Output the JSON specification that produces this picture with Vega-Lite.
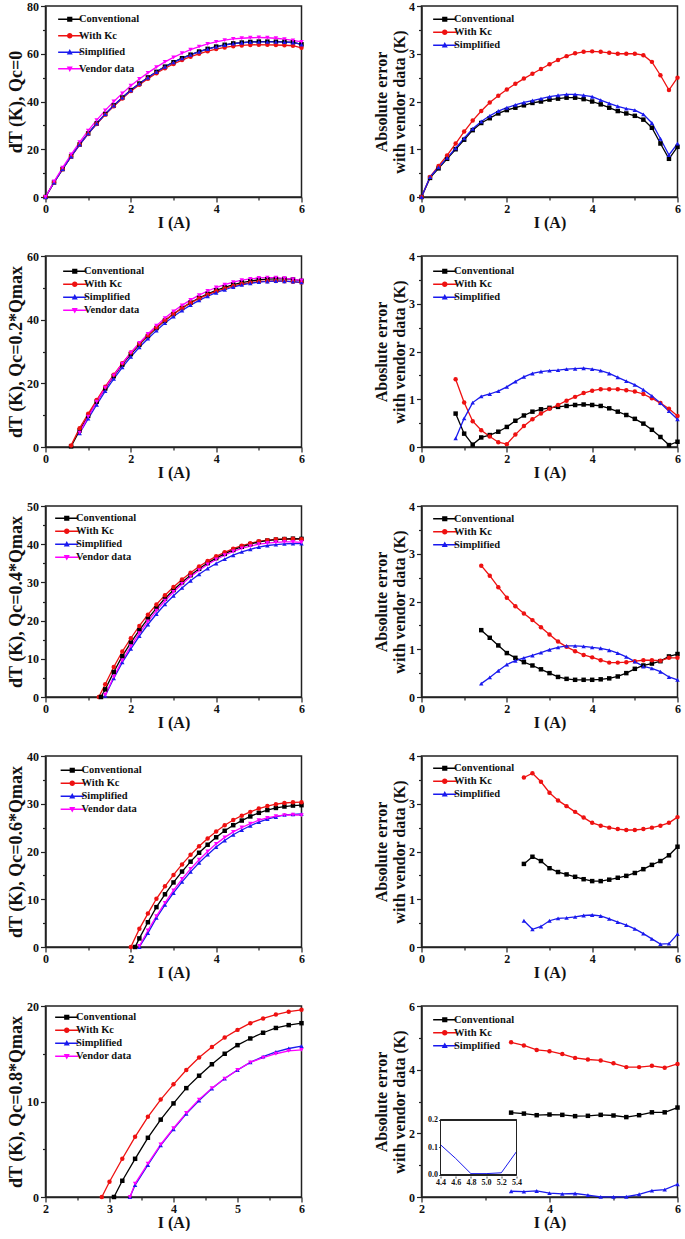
{
"$schema": "https://vega.github.io/schema/vega-lite/v6.json",
"background": "white",
"autosize": {"type": "pad"},
"padding": {"left": 6.5, "top": -1, "right": 0, "bottom": 0},
"columns": 2,
"spacing": {"row": 59, "column": 120},
"bounds": "flush",
"datasets": {
"A": [
{"I":0,"Conventional":0,"With Kc":0,"Simplified":0,"Vendor data":0},
{"I":0.2,"Conventional":6.1,"With Kc":6.08,"Simplified":6.08,"Vendor data":6.5},
{"I":0.4,"Conventional":11.7,"With Kc":11.65,"Simplified":11.68,"Vendor data":12.3},
{"I":0.6,"Conventional":17.0,"With Kc":16.93,"Simplified":16.98,"Vendor data":17.8},
{"I":0.8,"Conventional":22.0,"With Kc":21.88,"Simplified":21.98,"Vendor data":23.0},
{"I":1.0,"Conventional":26.6,"With Kc":26.43,"Simplified":26.57,"Vendor data":27.8},
{"I":1.2,"Conventional":30.8,"With Kc":30.6,"Simplified":30.77,"Vendor data":32.2},
{"I":1.4,"Conventional":34.75,"With Kc":34.5,"Simplified":34.72,"Vendor data":36.3},
{"I":1.6,"Conventional":38.35,"With Kc":38.02,"Simplified":38.3,"Vendor data":40.0},
{"I":1.8,"Conventional":41.65,"With Kc":41.28,"Simplified":41.6,"Vendor data":43.4},
{"I":2.0,"Conventional":44.78,"With Kc":44.35,"Simplified":44.73,"Vendor data":46.6},
{"I":2.2,"Conventional":47.53,"With Kc":47.03,"Simplified":47.47,"Vendor data":49.4},
{"I":2.4,"Conventional":50.08,"With Kc":49.52,"Simplified":50.02,"Vendor data":52.0},
{"I":2.6,"Conventional":52.43,"With Kc":51.82,"Simplified":52.38,"Vendor data":54.4},
{"I":2.8,"Conventional":54.6,"With Kc":53.92,"Simplified":54.54,"Vendor data":56.6},
{"I":3.0,"Conventional":56.46,"With Kc":55.72,"Simplified":56.4,"Vendor data":58.5},
{"I":3.2,"Conventional":58.14,"With Kc":57.33,"Simplified":58.07,"Vendor data":60.2},
{"I":3.4,"Conventional":59.62,"With Kc":58.75,"Simplified":59.55,"Vendor data":61.7},
{"I":3.6,"Conventional":60.92,"With Kc":59.99,"Simplified":60.85,"Vendor data":63.0},
{"I":3.8,"Conventional":62.05,"With Kc":61.06,"Simplified":61.97,"Vendor data":64.1},
{"I":4.0,"Conventional":63.0,"With Kc":61.95,"Simplified":62.9,"Vendor data":65.0},
{"I":4.2,"Conventional":63.76,"With Kc":62.66,"Simplified":63.67,"Vendor data":65.7},
{"I":4.4,"Conventional":64.33,"With Kc":63.18,"Simplified":64.24,"Vendor data":66.2},
{"I":4.6,"Conventional":64.7,"With Kc":63.5,"Simplified":64.6,"Vendor data":66.5},
{"I":4.8,"Conventional":64.95,"With Kc":63.7,"Simplified":64.85,"Vendor data":66.7},
{"I":5.0,"Conventional":65.1,"With Kc":63.8,"Simplified":64.98,"Vendor data":66.8},
{"I":5.2,"Conventional":65.08,"With Kc":63.73,"Simplified":64.97,"Vendor data":66.7},
{"I":5.4,"Conventional":65.05,"With Kc":63.67,"Simplified":64.95,"Vendor data":66.5},
{"I":5.6,"Conventional":64.98,"With Kc":63.55,"Simplified":64.88,"Vendor data":66.1},
{"I":5.8,"Conventional":64.8,"With Kc":63.36,"Simplified":64.72,"Vendor data":65.6},
{"I":6.0,"Conventional":63.95,"With Kc":62.5,"Simplified":63.88,"Vendor data":65.0}
],
"AE": [
{"I":0,"Conventional":0,"With Kc":0,"Simplified":0},
{"I":0.2,"Conventional":0.4,"With Kc":0.42,"Simplified":0.42},
{"I":0.4,"Conventional":0.6,"With Kc":0.65,"Simplified":0.62},
{"I":0.6,"Conventional":0.8,"With Kc":0.87,"Simplified":0.82},
{"I":0.8,"Conventional":1.0,"With Kc":1.12,"Simplified":1.02},
{"I":1.0,"Conventional":1.2,"With Kc":1.37,"Simplified":1.23},
{"I":1.2,"Conventional":1.4,"With Kc":1.6,"Simplified":1.43},
{"I":1.4,"Conventional":1.55,"With Kc":1.8,"Simplified":1.58},
{"I":1.6,"Conventional":1.65,"With Kc":1.98,"Simplified":1.7},
{"I":1.8,"Conventional":1.75,"With Kc":2.12,"Simplified":1.8},
{"I":2.0,"Conventional":1.82,"With Kc":2.25,"Simplified":1.87},
{"I":2.2,"Conventional":1.87,"With Kc":2.37,"Simplified":1.93},
{"I":2.4,"Conventional":1.92,"With Kc":2.48,"Simplified":1.98},
{"I":2.6,"Conventional":1.97,"With Kc":2.58,"Simplified":2.02},
{"I":2.8,"Conventional":2.0,"With Kc":2.68,"Simplified":2.06},
{"I":3.0,"Conventional":2.04,"With Kc":2.78,"Simplified":2.1},
{"I":3.2,"Conventional":2.06,"With Kc":2.87,"Simplified":2.13},
{"I":3.4,"Conventional":2.08,"With Kc":2.95,"Simplified":2.15},
{"I":3.6,"Conventional":2.08,"With Kc":3.01,"Simplified":2.15},
{"I":3.8,"Conventional":2.05,"With Kc":3.04,"Simplified":2.13},
{"I":4.0,"Conventional":2.0,"With Kc":3.05,"Simplified":2.1},
{"I":4.2,"Conventional":1.94,"With Kc":3.04,"Simplified":2.03},
{"I":4.4,"Conventional":1.87,"With Kc":3.02,"Simplified":1.96},
{"I":4.6,"Conventional":1.8,"With Kc":3.0,"Simplified":1.9},
{"I":4.8,"Conventional":1.75,"With Kc":3.0,"Simplified":1.85},
{"I":5.0,"Conventional":1.7,"With Kc":3.0,"Simplified":1.82},
{"I":5.2,"Conventional":1.62,"With Kc":2.97,"Simplified":1.73},
{"I":5.4,"Conventional":1.45,"With Kc":2.83,"Simplified":1.55},
{"I":5.6,"Conventional":1.12,"With Kc":2.55,"Simplified":1.22},
{"I":5.8,"Conventional":0.8,"With Kc":2.24,"Simplified":0.88},
{"I":6.0,"Conventional":1.05,"With Kc":2.5,"Simplified":1.12}
],
"B": [
{"I":0.6,"Conventional":0.2,"With Kc":0.5,"Simplified":null,"Vendor data":null},
{"I":0.8,"Conventional":5.2,"With Kc":5.92,"Simplified":4.32,"Vendor data":4.5},
{"I":1.0,"Conventional":9.78,"With Kc":10.43,"Simplified":8.9,"Vendor data":9.5},
{"I":1.2,"Conventional":14.25,"With Kc":14.74,"Simplified":13.27,"Vendor data":14.2},
{"I":1.4,"Conventional":18.4,"With Kc":18.95,"Simplified":17.54,"Vendor data":18.6},
{"I":1.6,"Conventional":22.25,"With Kc":22.72,"Simplified":21.39,"Vendor data":22.5},
{"I":1.8,"Conventional":25.88,"With Kc":26.3,"Simplified":25.03,"Vendor data":26.2},
{"I":2.0,"Conventional":29.18,"With Kc":29.66,"Simplified":28.34,"Vendor data":29.6},
{"I":2.2,"Conventional":32.15,"With Kc":32.44,"Simplified":31.33,"Vendor data":32.7},
{"I":2.4,"Conventional":34.84,"With Kc":35.06,"Simplified":34.03,"Vendor data":35.5},
{"I":2.6,"Conventional":37.36,"With Kc":37.52,"Simplified":36.56,"Vendor data":38.1},
{"I":2.8,"Conventional":39.71,"With Kc":39.8,"Simplified":38.92,"Vendor data":40.5},
{"I":3.0,"Conventional":41.78,"With Kc":41.8,"Simplified":41.0,"Vendor data":42.6},
{"I":3.2,"Conventional":43.66,"With Kc":43.62,"Simplified":42.89,"Vendor data":44.5},
{"I":3.4,"Conventional":45.34,"With Kc":45.23,"Simplified":44.57,"Vendor data":46.2},
{"I":3.6,"Conventional":46.82,"With Kc":46.65,"Simplified":46.06,"Vendor data":47.7},
{"I":3.8,"Conventional":48.11,"With Kc":47.87,"Simplified":47.35,"Vendor data":49.0},
{"I":4.0,"Conventional":49.22,"With Kc":48.92,"Simplified":48.47,"Vendor data":50.1},
{"I":4.2,"Conventional":50.14,"With Kc":49.79,"Simplified":49.4,"Vendor data":51.0},
{"I":4.4,"Conventional":50.99,"With Kc":50.59,"Simplified":50.26,"Vendor data":51.8},
{"I":4.6,"Conventional":51.66,"With Kc":51.19,"Simplified":50.94,"Vendor data":52.4},
{"I":4.8,"Conventional":52.13,"With Kc":51.61,"Simplified":51.42,"Vendor data":52.8},
{"I":5.0,"Conventional":52.51,"With Kc":51.94,"Simplified":51.8,"Vendor data":53.1},
{"I":5.2,"Conventional":52.71,"With Kc":52.09,"Simplified":52.0,"Vendor data":53.2},
{"I":5.4,"Conventional":52.84,"With Kc":52.18,"Simplified":52.13,"Vendor data":53.2},
{"I":5.6,"Conventional":52.79,"With Kc":52.08,"Simplified":52.08,"Vendor data":53.0},
{"I":5.8,"Conventional":52.66,"With Kc":51.9,"Simplified":51.95,"Vendor data":52.7},
{"I":6.0,"Conventional":52.19,"With Kc":51.65,"Simplified":51.72,"Vendor data":52.3}
],
"BE": [
{"I":0.8,"Conventional":0.7,"With Kc":1.42,"Simplified":0.18},
{"I":1.0,"Conventional":0.28,"With Kc":0.93,"Simplified":0.6},
{"I":1.2,"Conventional":0.05,"With Kc":0.54,"Simplified":0.93},
{"I":1.4,"Conventional":0.2,"With Kc":0.35,"Simplified":1.06},
{"I":1.6,"Conventional":0.25,"With Kc":0.22,"Simplified":1.11},
{"I":1.8,"Conventional":0.32,"With Kc":0.1,"Simplified":1.17},
{"I":2.0,"Conventional":0.42,"With Kc":0.06,"Simplified":1.26},
{"I":2.2,"Conventional":0.55,"With Kc":0.26,"Simplified":1.37},
{"I":2.4,"Conventional":0.66,"With Kc":0.44,"Simplified":1.47},
{"I":2.6,"Conventional":0.74,"With Kc":0.58,"Simplified":1.54},
{"I":2.8,"Conventional":0.79,"With Kc":0.7,"Simplified":1.58},
{"I":3.0,"Conventional":0.82,"With Kc":0.8,"Simplified":1.6},
{"I":3.2,"Conventional":0.84,"With Kc":0.88,"Simplified":1.61},
{"I":3.4,"Conventional":0.86,"With Kc":0.97,"Simplified":1.63},
{"I":3.6,"Conventional":0.88,"With Kc":1.05,"Simplified":1.64},
{"I":3.8,"Conventional":0.89,"With Kc":1.13,"Simplified":1.65},
{"I":4.0,"Conventional":0.88,"With Kc":1.18,"Simplified":1.63},
{"I":4.2,"Conventional":0.86,"With Kc":1.21,"Simplified":1.6},
{"I":4.4,"Conventional":0.81,"With Kc":1.21,"Simplified":1.54},
{"I":4.6,"Conventional":0.74,"With Kc":1.21,"Simplified":1.46},
{"I":4.8,"Conventional":0.67,"With Kc":1.19,"Simplified":1.38},
{"I":5.0,"Conventional":0.59,"With Kc":1.16,"Simplified":1.3},
{"I":5.2,"Conventional":0.49,"With Kc":1.11,"Simplified":1.2},
{"I":5.4,"Conventional":0.36,"With Kc":1.02,"Simplified":1.07},
{"I":5.6,"Conventional":0.21,"With Kc":0.92,"Simplified":0.92},
{"I":5.8,"Conventional":0.04,"With Kc":0.8,"Simplified":0.75},
{"I":6.0,"Conventional":0.11,"With Kc":0.65,"Simplified":0.58}
],
"C": [
{"I":1.25,"Conventional":null,"With Kc":0,"Simplified":null,"Vendor data":null},
{"I":1.3,"Conventional":0,"With Kc":null,"Simplified":null,"Vendor data":null},
{"I":1.4,"Conventional":2.0,"With Kc":3.35,"Simplified":0.32,"Vendor data":0.6},
{"I":1.6,"Conventional":6.54,"With Kc":7.84,"Simplified":4.89,"Vendor data":5.3},
{"I":1.8,"Conventional":10.68,"With Kc":11.9,"Simplified":9.05,"Vendor data":9.6},
{"I":2.0,"Conventional":14.22,"With Kc":15.38,"Simplified":12.62,"Vendor data":13.3},
{"I":2.2,"Conventional":17.52,"With Kc":18.6,"Simplified":15.94,"Vendor data":16.7},
{"I":2.4,"Conventional":20.53,"With Kc":21.55,"Simplified":18.98,"Vendor data":19.8},
{"I":2.6,"Conventional":23.26,"With Kc":24.21,"Simplified":21.73,"Vendor data":22.6},
{"I":2.8,"Conventional":25.78,"With Kc":26.66,"Simplified":24.27,"Vendor data":25.2},
{"I":3.0,"Conventional":28.0,"With Kc":28.81,"Simplified":26.51,"Vendor data":27.5},
{"I":3.2,"Conventional":30.02,"With Kc":30.76,"Simplified":28.56,"Vendor data":29.6},
{"I":3.4,"Conventional":31.88,"With Kc":32.55,"Simplified":30.43,"Vendor data":31.5},
{"I":3.6,"Conventional":33.56,"With Kc":34.16,"Simplified":32.13,"Vendor data":33.2},
{"I":3.8,"Conventional":35.06,"With Kc":35.58,"Simplified":33.64,"Vendor data":34.7},
{"I":4.0,"Conventional":36.36,"With Kc":36.83,"Simplified":34.96,"Vendor data":36.0},
{"I":4.2,"Conventional":37.47,"With Kc":37.87,"Simplified":36.08,"Vendor data":37.1},
{"I":4.4,"Conventional":38.49,"With Kc":38.82,"Simplified":37.12,"Vendor data":38.1},
{"I":4.6,"Conventional":39.33,"With Kc":39.62,"Simplified":37.98,"Vendor data":38.9},
{"I":4.8,"Conventional":40.0,"With Kc":40.23,"Simplified":38.66,"Vendor data":39.5},
{"I":5.0,"Conventional":40.59,"With Kc":40.75,"Simplified":39.26,"Vendor data":40.0},
{"I":5.2,"Conventional":40.96,"With Kc":41.07,"Simplified":39.66,"Vendor data":40.3},
{"I":5.4,"Conventional":41.2,"With Kc":41.27,"Simplified":39.9,"Vendor data":40.5},
{"I":5.6,"Conventional":41.35,"With Kc":41.36,"Simplified":40.07,"Vendor data":40.6},
{"I":5.8,"Conventional":41.45,"With Kc":41.42,"Simplified":40.18,"Vendor data":40.6},
{"I":6.0,"Conventional":41.4,"With Kc":41.32,"Simplified":40.14,"Vendor data":40.5}
],
"CE": [
{"I":1.4,"Conventional":1.4,"With Kc":2.75,"Simplified":0.28},
{"I":1.6,"Conventional":1.24,"With Kc":2.54,"Simplified":0.41},
{"I":1.8,"Conventional":1.08,"With Kc":2.3,"Simplified":0.55},
{"I":2.0,"Conventional":0.92,"With Kc":2.08,"Simplified":0.68},
{"I":2.2,"Conventional":0.82,"With Kc":1.9,"Simplified":0.76},
{"I":2.4,"Conventional":0.73,"With Kc":1.75,"Simplified":0.82},
{"I":2.6,"Conventional":0.66,"With Kc":1.61,"Simplified":0.87},
{"I":2.8,"Conventional":0.58,"With Kc":1.46,"Simplified":0.93},
{"I":3.0,"Conventional":0.5,"With Kc":1.31,"Simplified":0.99},
{"I":3.2,"Conventional":0.42,"With Kc":1.16,"Simplified":1.04},
{"I":3.4,"Conventional":0.38,"With Kc":1.05,"Simplified":1.07},
{"I":3.6,"Conventional":0.36,"With Kc":0.96,"Simplified":1.07},
{"I":3.8,"Conventional":0.36,"With Kc":0.88,"Simplified":1.06},
{"I":4.0,"Conventional":0.36,"With Kc":0.83,"Simplified":1.04},
{"I":4.2,"Conventional":0.37,"With Kc":0.77,"Simplified":1.02},
{"I":4.4,"Conventional":0.39,"With Kc":0.72,"Simplified":0.98},
{"I":4.6,"Conventional":0.43,"With Kc":0.72,"Simplified":0.92},
{"I":4.8,"Conventional":0.5,"With Kc":0.73,"Simplified":0.84},
{"I":5.0,"Conventional":0.59,"With Kc":0.75,"Simplified":0.74},
{"I":5.2,"Conventional":0.66,"With Kc":0.77,"Simplified":0.64},
{"I":5.4,"Conventional":0.7,"With Kc":0.77,"Simplified":0.6},
{"I":5.6,"Conventional":0.75,"With Kc":0.76,"Simplified":0.53},
{"I":5.8,"Conventional":0.85,"With Kc":0.82,"Simplified":0.42},
{"I":6.0,"Conventional":0.9,"With Kc":0.82,"Simplified":0.36}
],
"D": [
{"I":2.0,"Conventional":null,"With Kc":0,"Simplified":null,"Vendor data":null},
{"I":2.1,"Conventional":0,"With Kc":null,"Simplified":null,"Vendor data":null},
{"I":2.2,"Conventional":1.8,"With Kc":3.8,"Simplified":0,"Vendor data":0.2},
{"I":2.4,"Conventional":5.19,"With Kc":7.0,"Simplified":2.9,"Vendor data":3.45},
{"I":2.6,"Conventional":8.35,"With Kc":10.1,"Simplified":6.09,"Vendor data":6.46},
{"I":2.8,"Conventional":11.04,"With Kc":12.7,"Simplified":8.81,"Vendor data":9.24},
{"I":3.0,"Conventional":13.52,"With Kc":15.1,"Simplified":11.32,"Vendor data":11.87},
{"I":3.2,"Conventional":15.8,"With Kc":17.3,"Simplified":13.63,"Vendor data":14.23},
{"I":3.4,"Conventional":17.87,"With Kc":19.3,"Simplified":15.74,"Vendor data":16.35},
{"I":3.6,"Conventional":19.74,"With Kc":21.1,"Simplified":17.64,"Vendor data":18.27},
{"I":3.8,"Conventional":21.42,"With Kc":22.7,"Simplified":19.34,"Vendor data":20.0},
{"I":4.0,"Conventional":22.98,"With Kc":24.2,"Simplified":20.93,"Vendor data":21.6},
{"I":4.2,"Conventional":24.34,"With Kc":25.5,"Simplified":22.31,"Vendor data":22.96},
{"I":4.4,"Conventional":25.51,"With Kc":26.6,"Simplified":23.51,"Vendor data":24.1},
{"I":4.6,"Conventional":26.48,"With Kc":27.5,"Simplified":24.51,"Vendor data":25.03},
{"I":4.8,"Conventional":27.34,"With Kc":28.3,"Simplified":25.39,"Vendor data":25.85},
{"I":5.0,"Conventional":28.1,"With Kc":29.0,"Simplified":26.17,"Vendor data":26.55},
{"I":5.2,"Conventional":28.68,"With Kc":29.52,"Simplified":26.77,"Vendor data":27.05},
{"I":5.4,"Conventional":29.12,"With Kc":29.9,"Simplified":27.23,"Vendor data":27.4},
{"I":5.6,"Conventional":29.42,"With Kc":30.16,"Simplified":27.68,"Vendor data":27.62},
{"I":5.8,"Conventional":29.62,"With Kc":30.3,"Simplified":27.77,"Vendor data":27.7},
{"I":6.0,"Conventional":29.7,"With Kc":30.32,"Simplified":27.87,"Vendor data":27.6}
],
"DE": [
{"I":2.4,"Conventional":1.74,"With Kc":3.55,"Simplified":0.55},
{"I":2.6,"Conventional":1.89,"With Kc":3.64,"Simplified":0.37},
{"I":2.8,"Conventional":1.8,"With Kc":3.46,"Simplified":0.43},
{"I":3.0,"Conventional":1.65,"With Kc":3.23,"Simplified":0.55},
{"I":3.2,"Conventional":1.57,"With Kc":3.07,"Simplified":0.6},
{"I":3.4,"Conventional":1.52,"With Kc":2.95,"Simplified":0.61},
{"I":3.6,"Conventional":1.47,"With Kc":2.83,"Simplified":0.63},
{"I":3.8,"Conventional":1.42,"With Kc":2.71,"Simplified":0.66},
{"I":4.0,"Conventional":1.38,"With Kc":2.6,"Simplified":0.67},
{"I":4.2,"Conventional":1.38,"With Kc":2.54,"Simplified":0.65},
{"I":4.4,"Conventional":1.41,"With Kc":2.5,"Simplified":0.59},
{"I":4.6,"Conventional":1.45,"With Kc":2.47,"Simplified":0.52},
{"I":4.8,"Conventional":1.49,"With Kc":2.45,"Simplified":0.46},
{"I":5.0,"Conventional":1.55,"With Kc":2.45,"Simplified":0.38},
{"I":5.2,"Conventional":1.63,"With Kc":2.47,"Simplified":0.28},
{"I":5.4,"Conventional":1.72,"With Kc":2.5,"Simplified":0.17},
{"I":5.6,"Conventional":1.8,"With Kc":2.54,"Simplified":0.06},
{"I":5.8,"Conventional":1.92,"With Kc":2.6,"Simplified":0.07},
{"I":6.0,"Conventional":2.1,"With Kc":2.72,"Simplified":0.27}
],
"E": [
{"I":2.88,"Conventional":null,"With Kc":0,"Simplified":null,"Vendor data":null},
{"I":3.0,"Conventional":null,"With Kc":1.6,"Simplified":null,"Vendor data":null},
{"I":3.07,"Conventional":0,"With Kc":null,"Simplified":null,"Vendor data":null},
{"I":3.2,"Conventional":1.7,"With Kc":4.0,"Simplified":null,"Vendor data":null},
{"I":3.32,"Conventional":null,"With Kc":null,"Simplified":0,"Vendor data":0},
{"I":3.4,"Conventional":4.0,"With Kc":6.3,"Simplified":1.25,"Vendor data":1.4},
{"I":3.6,"Conventional":6.2,"With Kc":8.4,"Simplified":3.35,"Vendor data":3.5},
{"I":3.8,"Conventional":8.1,"With Kc":10.2,"Simplified":5.4,"Vendor data":5.5},
{"I":4.0,"Conventional":9.8,"With Kc":11.8,"Simplified":7.1,"Vendor data":7.2},
{"I":4.2,"Conventional":11.4,"With Kc":13.3,"Simplified":8.7,"Vendor data":8.8},
{"I":4.4,"Conventional":12.7,"With Kc":14.6,"Simplified":10.1,"Vendor data":10.2},
{"I":4.6,"Conventional":13.9,"With Kc":15.7,"Simplified":11.35,"Vendor data":11.4},
{"I":4.8,"Conventional":15.0,"With Kc":16.7,"Simplified":12.4,"Vendor data":12.4},
{"I":5.0,"Conventional":15.9,"With Kc":17.5,"Simplified":13.3,"Vendor data":13.3},
{"I":5.2,"Conventional":16.6,"With Kc":18.2,"Simplified":14.1,"Vendor data":14.1},
{"I":5.4,"Conventional":17.2,"With Kc":18.7,"Simplified":14.7,"Vendor data":14.6},
{"I":5.6,"Conventional":17.7,"With Kc":19.1,"Simplified":15.2,"Vendor data":15.0},
{"I":5.8,"Conventional":18.0,"With Kc":19.4,"Simplified":15.55,"Vendor data":15.3},
{"I":6.0,"Conventional":18.2,"With Kc":19.6,"Simplified":15.8,"Vendor data":15.4}
],
"EE": [
{"I":3.4,"Conventional":2.65,"With Kc":4.86,"Simplified":0.18},
{"I":3.6,"Conventional":2.62,"With Kc":4.76,"Simplified":0.17},
{"I":3.8,"Conventional":2.57,"With Kc":4.62,"Simplified":0.19},
{"I":4.0,"Conventional":2.59,"With Kc":4.58,"Simplified":0.12},
{"I":4.2,"Conventional":2.58,"With Kc":4.49,"Simplified":0.1},
{"I":4.4,"Conventional":2.54,"With Kc":4.37,"Simplified":0.11},
{"I":4.6,"Conventional":2.55,"With Kc":4.32,"Simplified":0.06},
{"I":4.8,"Conventional":2.58,"With Kc":4.29,"Simplified":0.005},
{"I":5.0,"Conventional":2.56,"With Kc":4.2,"Simplified":0.005},
{"I":5.2,"Conventional":2.51,"With Kc":4.08,"Simplified":0.008},
{"I":5.4,"Conventional":2.57,"With Kc":4.08,"Simplified":0.085},
{"I":5.6,"Conventional":2.66,"With Kc":4.12,"Simplified":0.2},
{"I":5.8,"Conventional":2.66,"With Kc":4.06,"Simplified":0.23},
{"I":6.0,"Conventional":2.81,"With Kc":4.18,"Simplified":0.4}
]
},
"concat": [
{
"width": 256, "height": 191,
"data": {"name": "A"},
"transform": [{"fold": ["Conventional","With Kc","Simplified","Vendor data"], "as": ["s","v"]},{"filter":"isValid(datum.v)"}],
"encoding": {
"x": {"field":"I","type":"quantitative","scale":{"domain":[0,6],"nice":false,"zero":false},"axis":{"title":"I (A)","values":[0,1,2,3,4,5,6],"labelExpr":"datum.value % 2 === 0 ? datum.label : ''","tickSize":{"condition":{"test":"datum.value % 2 === 0","value":5},"value":3}}},
"y": {"field":"v","type":"quantitative","scale":{"domain":[0,80],"nice":false},"axis":{"title":"dT (K), Qc=0","values":[0,10,20,30,40,50,60,70,80],"labelExpr":"datum.value % 20 === 0 ? datum.label : ''","tickSize":{"condition":{"test":"datum.value % 20 === 0","value":5},"value":3}}}
},
"layer": [
{"mark":{"type":"line","strokeWidth":1.3},"encoding":{"color":{"field":"s","type":"nominal","scale":{"domain":["Conventional","With Kc","Simplified","Vendor data"],"range":["#000000","#ee1111","#1a1aee","#ff00ff"]},"legend":null}}},
{"mark":{"type":"point","filled":true,"size":20,"opacity":1},"encoding":{"color":{"field":"s","type":"nominal","scale":{"domain":["Conventional","With Kc","Simplified","Vendor data"],"range":["#000000","#ee1111","#1a1aee","#ff00ff"]},"legend":null},"shape":{"field":"s","type":"nominal","scale":{"domain":["Conventional","With Kc","Simplified","Vendor data"],"range":["square","circle","triangle-up","triangle-down"]},"legend":null}}},
{"mark":{"type":"point","filled":true,"opacity":0},"encoding":{
"fill":{"field":"s","type":"nominal","scale":{"domain":["Conventional","With Kc","Simplified","Vendor data"],"range":["#000000","#ee1111","#1a1aee","#ff00ff"]},"legend":{"title":null,"orient":"none","legendX":19,"legendY":8,"rowPadding":5.5}},
"shape":{"field":"s","type":"nominal","scale":{"domain":["Conventional","With Kc","Simplified","Vendor data"],"range":["M-2.9,-0.16H2.9V0.16H-2.9ZM-0.65,-0.65H0.65V0.65H-0.65Z","M-2.9,-0.16H2.9V0.16H-2.9ZM-0.7,0A0.7,0.7,0,1,1,0.7,0A0.7,0.7,0,1,1,-0.7,0Z","M-2.9,-0.16H2.9V0.16H-2.9ZM0,-0.8L0.75,0.55L-0.75,0.55Z","M-2.9,-0.16H2.9V0.16H-2.9ZM0,0.8L-0.75,-0.55L0.75,-0.55Z"]},"legend":{"title":null,"orient":"none","legendX":19,"legendY":8,"rowPadding":5.5}}}}
],
"resolve": {"scale": {"shape":"independent","fill":"independent"}}
},
{
"width": 256, "height": 191,
"data": {"name": "AE"},
"transform": [{"fold": ["Conventional","With Kc","Simplified"], "as": ["s","v"]},{"filter":"isValid(datum.v)"}],
"encoding": {
"x": {"field":"I","type":"quantitative","scale":{"domain":[0,6],"nice":false,"zero":false},"axis":{"title":"I (A)","values":[0,1,2,3,4,5,6],"labelExpr":"datum.value % 2 === 0 ? datum.label : ''","tickSize":{"condition":{"test":"datum.value % 2 === 0","value":5},"value":3}}},
"y": {"field":"v","type":"quantitative","scale":{"domain":[0,4],"nice":false},"axis":{"title":["Absolute error","with vendor data (K)"],"titleFontSize":16,"format":".0f","values":[0,0.5,1,1.5,2,2.5,3,3.5,4],"labelExpr":"datum.value % 1 === 0 ? datum.label : ''","tickSize":{"condition":{"test":"datum.value % 1 === 0","value":5},"value":3}}}
},
"layer": [
{"mark":{"type":"line","strokeWidth":1.3},"encoding":{"color":{"field":"s","type":"nominal","scale":{"domain":["Conventional","With Kc","Simplified"],"range":["#000000","#ee1111","#1a1aee"]},"legend":null}}},
{"mark":{"type":"point","filled":true,"size":20,"opacity":1},"encoding":{"color":{"field":"s","type":"nominal","scale":{"domain":["Conventional","With Kc","Simplified"],"range":["#000000","#ee1111","#1a1aee"]},"legend":null},"shape":{"field":"s","type":"nominal","scale":{"domain":["Conventional","With Kc","Simplified"],"range":["square","circle","triangle-up"]},"legend":null}}},
{"mark":{"type":"point","filled":true,"opacity":0},"encoding":{
"fill":{"field":"s","type":"nominal","scale":{"domain":["Conventional","With Kc","Simplified"],"range":["#000000","#ee1111","#1a1aee"]},"legend":{"title":null,"orient":"none","legendX":18,"legendY":8}},
"shape":{"field":"s","type":"nominal","scale":{"domain":["Conventional","With Kc","Simplified"],"range":["M-2.9,-0.16H2.9V0.16H-2.9ZM-0.65,-0.65H0.65V0.65H-0.65Z","M-2.9,-0.16H2.9V0.16H-2.9ZM-0.7,0A0.7,0.7,0,1,1,0.7,0A0.7,0.7,0,1,1,-0.7,0Z","M-2.9,-0.16H2.9V0.16H-2.9ZM0,-0.8L0.75,0.55L-0.75,0.55Z"]},"legend":{"title":null,"orient":"none","legendX":18,"legendY":8}}}}
],
"resolve": {"scale": {"shape":"independent","fill":"independent"}}
},
{
"width": 256, "height": 191,
"data": {"name": "B"},
"transform": [{"fold": ["Conventional","With Kc","Simplified","Vendor data"], "as": ["s","v"]},{"filter":"isValid(datum.v)"}],
"encoding": {
"x": {"field":"I","type":"quantitative","scale":{"domain":[0,6],"nice":false,"zero":false},"axis":{"title":"I (A)","values":[0,1,2,3,4,5,6],"labelExpr":"datum.value % 2 === 0 ? datum.label : ''","tickSize":{"condition":{"test":"datum.value % 2 === 0","value":5},"value":3}}},
"y": {"field":"v","type":"quantitative","scale":{"domain":[0,60],"nice":false},"axis":{"title":"dT (K), Qc=0.2*Qmax","values":[0,10,20,30,40,50,60],"labelExpr":"datum.value % 20 === 0 ? datum.label : ''","tickSize":{"condition":{"test":"datum.value % 20 === 0","value":5},"value":3}}}
},
"layer": [
{"mark":{"type":"line","strokeWidth":1.3},"encoding":{"color":{"field":"s","type":"nominal","scale":{"domain":["Conventional","With Kc","Simplified","Vendor data"],"range":["#000000","#ee1111","#1a1aee","#ff00ff"]},"legend":null}}},
{"mark":{"type":"point","filled":true,"size":20,"opacity":1},"encoding":{"color":{"field":"s","type":"nominal","scale":{"domain":["Conventional","With Kc","Simplified","Vendor data"],"range":["#000000","#ee1111","#1a1aee","#ff00ff"]},"legend":null},"shape":{"field":"s","type":"nominal","scale":{"domain":["Conventional","With Kc","Simplified","Vendor data"],"range":["square","circle","triangle-up","triangle-down"]},"legend":null}}},
{"mark":{"type":"point","filled":true,"opacity":0},"encoding":{
"fill":{"field":"s","type":"nominal","scale":{"domain":["Conventional","With Kc","Simplified","Vendor data"],"range":["#000000","#ee1111","#1a1aee","#ff00ff"]},"legend":{"title":null,"orient":"none","legendX":24,"legendY":10}},
"shape":{"field":"s","type":"nominal","scale":{"domain":["Conventional","With Kc","Simplified","Vendor data"],"range":["M-2.9,-0.16H2.9V0.16H-2.9ZM-0.65,-0.65H0.65V0.65H-0.65Z","M-2.9,-0.16H2.9V0.16H-2.9ZM-0.7,0A0.7,0.7,0,1,1,0.7,0A0.7,0.7,0,1,1,-0.7,0Z","M-2.9,-0.16H2.9V0.16H-2.9ZM0,-0.8L0.75,0.55L-0.75,0.55Z","M-2.9,-0.16H2.9V0.16H-2.9ZM0,0.8L-0.75,-0.55L0.75,-0.55Z"]},"legend":{"title":null,"orient":"none","legendX":24,"legendY":10}}}}
],
"resolve": {"scale": {"shape":"independent","fill":"independent"}}
},
{
"width": 256, "height": 191,
"data": {"name": "BE"},
"transform": [{"fold": ["Conventional","With Kc","Simplified"], "as": ["s","v"]},{"filter":"isValid(datum.v)"}],
"encoding": {
"x": {"field":"I","type":"quantitative","scale":{"domain":[0,6],"nice":false,"zero":false},"axis":{"title":"I (A)","values":[0,1,2,3,4,5,6],"labelExpr":"datum.value % 2 === 0 ? datum.label : ''","tickSize":{"condition":{"test":"datum.value % 2 === 0","value":5},"value":3}}},
"y": {"field":"v","type":"quantitative","scale":{"domain":[0,4],"nice":false},"axis":{"title":["Aboslute error","with vendor data (K)"],"titleFontSize":16,"format":".0f","values":[0,0.5,1,1.5,2,2.5,3,3.5,4],"labelExpr":"datum.value % 1 === 0 ? datum.label : ''","tickSize":{"condition":{"test":"datum.value % 1 === 0","value":5},"value":3}}}
},
"layer": [
{"mark":{"type":"line","strokeWidth":1.3},"encoding":{"color":{"field":"s","type":"nominal","scale":{"domain":["Conventional","With Kc","Simplified"],"range":["#000000","#ee1111","#1a1aee"]},"legend":null}}},
{"mark":{"type":"point","filled":true,"size":20,"opacity":1},"encoding":{"color":{"field":"s","type":"nominal","scale":{"domain":["Conventional","With Kc","Simplified"],"range":["#000000","#ee1111","#1a1aee"]},"legend":null},"shape":{"field":"s","type":"nominal","scale":{"domain":["Conventional","With Kc","Simplified"],"range":["square","circle","triangle-up"]},"legend":null}}},
{"mark":{"type":"point","filled":true,"opacity":0},"encoding":{
"fill":{"field":"s","type":"nominal","scale":{"domain":["Conventional","With Kc","Simplified"],"range":["#000000","#ee1111","#1a1aee"]},"legend":{"title":null,"orient":"none","legendX":18,"legendY":10}},
"shape":{"field":"s","type":"nominal","scale":{"domain":["Conventional","With Kc","Simplified"],"range":["M-2.9,-0.16H2.9V0.16H-2.9ZM-0.65,-0.65H0.65V0.65H-0.65Z","M-2.9,-0.16H2.9V0.16H-2.9ZM-0.7,0A0.7,0.7,0,1,1,0.7,0A0.7,0.7,0,1,1,-0.7,0Z","M-2.9,-0.16H2.9V0.16H-2.9ZM0,-0.8L0.75,0.55L-0.75,0.55Z"]},"legend":{"title":null,"orient":"none","legendX":18,"legendY":10}}}}
],
"resolve": {"scale": {"shape":"independent","fill":"independent"}}
},
{
"width": 256, "height": 191,
"data": {"name": "C"},
"transform": [{"fold": ["Conventional","With Kc","Simplified","Vendor data"], "as": ["s","v"]},{"filter":"isValid(datum.v)"}],
"encoding": {
"x": {"field":"I","type":"quantitative","scale":{"domain":[0,6],"nice":false,"zero":false},"axis":{"title":"I (A)","values":[0,1,2,3,4,5,6],"labelExpr":"datum.value % 2 === 0 ? datum.label : ''","tickSize":{"condition":{"test":"datum.value % 2 === 0","value":5},"value":3}}},
"y": {"field":"v","type":"quantitative","scale":{"domain":[0,50],"nice":false},"axis":{"title":"dT (K), Qc=0.4*Qmax","values":[0,5,10,15,20,25,30,35,40,45,50],"labelExpr":"datum.value % 10 === 0 ? datum.label : ''","tickSize":{"condition":{"test":"datum.value % 10 === 0","value":5},"value":3}}}
},
"layer": [
{"mark":{"type":"line","strokeWidth":1.3},"encoding":{"color":{"field":"s","type":"nominal","scale":{"domain":["Conventional","With Kc","Simplified","Vendor data"],"range":["#000000","#ee1111","#1a1aee","#ff00ff"]},"legend":null}}},
{"mark":{"type":"point","filled":true,"size":20,"opacity":1},"encoding":{"color":{"field":"s","type":"nominal","scale":{"domain":["Conventional","With Kc","Simplified","Vendor data"],"range":["#000000","#ee1111","#1a1aee","#ff00ff"]},"legend":null},"shape":{"field":"s","type":"nominal","scale":{"domain":["Conventional","With Kc","Simplified","Vendor data"],"range":["square","circle","triangle-up","triangle-down"]},"legend":null}}},
{"mark":{"type":"point","filled":true,"opacity":0},"encoding":{
"fill":{"field":"s","type":"nominal","scale":{"domain":["Conventional","With Kc","Simplified","Vendor data"],"range":["#000000","#ee1111","#1a1aee","#ff00ff"]},"legend":{"title":null,"orient":"none","legendX":16,"legendY":7}},
"shape":{"field":"s","type":"nominal","scale":{"domain":["Conventional","With Kc","Simplified","Vendor data"],"range":["M-2.9,-0.16H2.9V0.16H-2.9ZM-0.65,-0.65H0.65V0.65H-0.65Z","M-2.9,-0.16H2.9V0.16H-2.9ZM-0.7,0A0.7,0.7,0,1,1,0.7,0A0.7,0.7,0,1,1,-0.7,0Z","M-2.9,-0.16H2.9V0.16H-2.9ZM0,-0.8L0.75,0.55L-0.75,0.55Z","M-2.9,-0.16H2.9V0.16H-2.9ZM0,0.8L-0.75,-0.55L0.75,-0.55Z"]},"legend":{"title":null,"orient":"none","legendX":16,"legendY":7}}}}
],
"resolve": {"scale": {"shape":"independent","fill":"independent"}}
},
{
"width": 256, "height": 191,
"data": {"name": "CE"},
"transform": [{"fold": ["Conventional","With Kc","Simplified"], "as": ["s","v"]},{"filter":"isValid(datum.v)"}],
"encoding": {
"x": {"field":"I","type":"quantitative","scale":{"domain":[0,6],"nice":false,"zero":false},"axis":{"title":"I (A)","values":[0,1,2,3,4,5,6],"labelExpr":"datum.value % 2 === 0 ? datum.label : ''","tickSize":{"condition":{"test":"datum.value % 2 === 0","value":5},"value":3}}},
"y": {"field":"v","type":"quantitative","scale":{"domain":[0,4],"nice":false},"axis":{"title":["Absolute  error","with vendor data (K)"],"titleFontSize":16,"format":".0f","values":[0,0.5,1,1.5,2,2.5,3,3.5,4],"labelExpr":"datum.value % 1 === 0 ? datum.label : ''","tickSize":{"condition":{"test":"datum.value % 1 === 0","value":5},"value":3}}}
},
"layer": [
{"mark":{"type":"line","strokeWidth":1.3},"encoding":{"color":{"field":"s","type":"nominal","scale":{"domain":["Conventional","With Kc","Simplified"],"range":["#000000","#ee1111","#1a1aee"]},"legend":null}}},
{"mark":{"type":"point","filled":true,"size":20,"opacity":1},"encoding":{"color":{"field":"s","type":"nominal","scale":{"domain":["Conventional","With Kc","Simplified"],"range":["#000000","#ee1111","#1a1aee"]},"legend":null},"shape":{"field":"s","type":"nominal","scale":{"domain":["Conventional","With Kc","Simplified"],"range":["square","circle","triangle-up"]},"legend":null}}},
{"mark":{"type":"point","filled":true,"opacity":0},"encoding":{
"fill":{"field":"s","type":"nominal","scale":{"domain":["Conventional","With Kc","Simplified"],"range":["#000000","#ee1111","#1a1aee"]},"legend":{"title":null,"orient":"none","legendX":18,"legendY":7.5}},
"shape":{"field":"s","type":"nominal","scale":{"domain":["Conventional","With Kc","Simplified"],"range":["M-2.9,-0.16H2.9V0.16H-2.9ZM-0.65,-0.65H0.65V0.65H-0.65Z","M-2.9,-0.16H2.9V0.16H-2.9ZM-0.7,0A0.7,0.7,0,1,1,0.7,0A0.7,0.7,0,1,1,-0.7,0Z","M-2.9,-0.16H2.9V0.16H-2.9ZM0,-0.8L0.75,0.55L-0.75,0.55Z"]},"legend":{"title":null,"orient":"none","legendX":18,"legendY":7.5}}}}
],
"resolve": {"scale": {"shape":"independent","fill":"independent"}}
},
{
"width": 256, "height": 191,
"data": {"name": "D"},
"transform": [{"fold": ["Conventional","With Kc","Simplified","Vendor data"], "as": ["s","v"]},{"filter":"isValid(datum.v)"}],
"encoding": {
"x": {"field":"I","type":"quantitative","scale":{"domain":[0,6],"nice":false,"zero":false},"axis":{"title":"I (A)","values":[0,1,2,3,4,5,6],"labelExpr":"datum.value % 2 === 0 ? datum.label : ''","tickSize":{"condition":{"test":"datum.value % 2 === 0","value":5},"value":3}}},
"y": {"field":"v","type":"quantitative","scale":{"domain":[0,40],"nice":false},"axis":{"title":"dT (K), Qc=0.6*Qmax","values":[0,5,10,15,20,25,30,35,40],"labelExpr":"datum.value % 10 === 0 ? datum.label : ''","tickSize":{"condition":{"test":"datum.value % 10 === 0","value":5},"value":3}}}
},
"layer": [
{"mark":{"type":"line","strokeWidth":1.3},"encoding":{"color":{"field":"s","type":"nominal","scale":{"domain":["Conventional","With Kc","Simplified","Vendor data"],"range":["#000000","#ee1111","#1a1aee","#ff00ff"]},"legend":null}}},
{"mark":{"type":"point","filled":true,"size":20,"opacity":1},"encoding":{"color":{"field":"s","type":"nominal","scale":{"domain":["Conventional","With Kc","Simplified","Vendor data"],"range":["#000000","#ee1111","#1a1aee","#ff00ff"]},"legend":null},"shape":{"field":"s","type":"nominal","scale":{"domain":["Conventional","With Kc","Simplified","Vendor data"],"range":["square","circle","triangle-up","triangle-down"]},"legend":null}}},
{"mark":{"type":"point","filled":true,"opacity":0},"encoding":{
"fill":{"field":"s","type":"nominal","scale":{"domain":["Conventional","With Kc","Simplified","Vendor data"],"range":["#000000","#ee1111","#1a1aee","#ff00ff"]},"legend":{"title":null,"orient":"none","legendX":21.5,"legendY":9}},
"shape":{"field":"s","type":"nominal","scale":{"domain":["Conventional","With Kc","Simplified","Vendor data"],"range":["M-2.9,-0.16H2.9V0.16H-2.9ZM-0.65,-0.65H0.65V0.65H-0.65Z","M-2.9,-0.16H2.9V0.16H-2.9ZM-0.7,0A0.7,0.7,0,1,1,0.7,0A0.7,0.7,0,1,1,-0.7,0Z","M-2.9,-0.16H2.9V0.16H-2.9ZM0,-0.8L0.75,0.55L-0.75,0.55Z","M-2.9,-0.16H2.9V0.16H-2.9ZM0,0.8L-0.75,-0.55L0.75,-0.55Z"]},"legend":{"title":null,"orient":"none","legendX":21.5,"legendY":9}}}}
],
"resolve": {"scale": {"shape":"independent","fill":"independent"}}
},
{
"width": 256, "height": 191,
"data": {"name": "DE"},
"transform": [{"fold": ["Conventional","With Kc","Simplified"], "as": ["s","v"]},{"filter":"isValid(datum.v)"}],
"encoding": {
"x": {"field":"I","type":"quantitative","scale":{"domain":[0,6],"nice":false,"zero":false},"axis":{"title":"I (A)","values":[0,1,2,3,4,5,6],"labelExpr":"datum.value % 2 === 0 ? datum.label : ''","tickSize":{"condition":{"test":"datum.value % 2 === 0","value":5},"value":3}}},
"y": {"field":"v","type":"quantitative","scale":{"domain":[0,4],"nice":false},"axis":{"title":["Absolute error","with vendor data (K)"],"titleFontSize":16,"format":".0f","values":[0,0.5,1,1.5,2,2.5,3,3.5,4],"labelExpr":"datum.value % 1 === 0 ? datum.label : ''","tickSize":{"condition":{"test":"datum.value % 1 === 0","value":5},"value":3}}}
},
"layer": [
{"mark":{"type":"line","strokeWidth":1.3},"encoding":{"color":{"field":"s","type":"nominal","scale":{"domain":["Conventional","With Kc","Simplified"],"range":["#000000","#ee1111","#1a1aee"]},"legend":null}}},
{"mark":{"type":"point","filled":true,"size":20,"opacity":1},"encoding":{"color":{"field":"s","type":"nominal","scale":{"domain":["Conventional","With Kc","Simplified"],"range":["#000000","#ee1111","#1a1aee"]},"legend":null},"shape":{"field":"s","type":"nominal","scale":{"domain":["Conventional","With Kc","Simplified"],"range":["square","circle","triangle-up"]},"legend":null}}},
{"mark":{"type":"point","filled":true,"opacity":0},"encoding":{
"fill":{"field":"s","type":"nominal","scale":{"domain":["Conventional","With Kc","Simplified"],"range":["#000000","#ee1111","#1a1aee"]},"legend":{"title":null,"orient":"none","legendX":18,"legendY":7}},
"shape":{"field":"s","type":"nominal","scale":{"domain":["Conventional","With Kc","Simplified"],"range":["M-2.9,-0.16H2.9V0.16H-2.9ZM-0.65,-0.65H0.65V0.65H-0.65Z","M-2.9,-0.16H2.9V0.16H-2.9ZM-0.7,0A0.7,0.7,0,1,1,0.7,0A0.7,0.7,0,1,1,-0.7,0Z","M-2.9,-0.16H2.9V0.16H-2.9ZM0,-0.8L0.75,0.55L-0.75,0.55Z"]},"legend":{"title":null,"orient":"none","legendX":18,"legendY":7}}}}
],
"resolve": {"scale": {"shape":"independent","fill":"independent"}}
},
{
"width": 256, "height": 191,
"data": {"name": "E"},
"transform": [{"fold": ["Conventional","With Kc","Simplified","Vendor data"], "as": ["s","v"]},{"filter":"isValid(datum.v)"}],
"encoding": {
"x": {"field":"I","type":"quantitative","scale":{"domain":[2,6],"nice":false,"zero":false},"axis":{"title":"I (A)","format":".0f","values":[2,2.5,3,3.5,4,4.5,5,5.5,6],"labelExpr":"datum.value % 1 === 0 ? datum.label : ''","tickSize":{"condition":{"test":"datum.value % 1 === 0","value":5},"value":3}}},
"y": {"field":"v","type":"quantitative","scale":{"domain":[0,20],"nice":false},"axis":{"title":"dT (K), Qc=0.8*Qmax","values":[0,5,10,15,20],"labelExpr":"datum.value % 10 === 0 ? datum.label : ''","tickSize":{"condition":{"test":"datum.value % 10 === 0","value":5},"value":3}}}
},
"layer": [
{"mark":{"type":"line","strokeWidth":1.3},"encoding":{"color":{"field":"s","type":"nominal","scale":{"domain":["Conventional","With Kc","Simplified","Vendor data"],"range":["#000000","#ee1111","#1a1aee","#ff00ff"]},"legend":null}}},
{"mark":{"type":"point","filled":true,"size":20,"opacity":1},"encoding":{"color":{"field":"s","type":"nominal","scale":{"domain":["Conventional","With Kc","Simplified","Vendor data"],"range":["#000000","#ee1111","#1a1aee","#ff00ff"]},"legend":null},"shape":{"field":"s","type":"nominal","scale":{"domain":["Conventional","With Kc","Simplified","Vendor data"],"range":["square","circle","triangle-up","triangle-down"]},"legend":null}}},
{"mark":{"type":"point","filled":true,"opacity":0},"encoding":{
"fill":{"field":"s","type":"nominal","scale":{"domain":["Conventional","With Kc","Simplified","Vendor data"],"range":["#000000","#ee1111","#1a1aee","#ff00ff"]},"legend":{"title":null,"orient":"none","legendX":16,"legendY":6}},
"shape":{"field":"s","type":"nominal","scale":{"domain":["Conventional","With Kc","Simplified","Vendor data"],"range":["M-2.9,-0.16H2.9V0.16H-2.9ZM-0.65,-0.65H0.65V0.65H-0.65Z","M-2.9,-0.16H2.9V0.16H-2.9ZM-0.7,0A0.7,0.7,0,1,1,0.7,0A0.7,0.7,0,1,1,-0.7,0Z","M-2.9,-0.16H2.9V0.16H-2.9ZM0,-0.8L0.75,0.55L-0.75,0.55Z","M-2.9,-0.16H2.9V0.16H-2.9ZM0,0.8L-0.75,-0.55L0.75,-0.55Z"]},"legend":{"title":null,"orient":"none","legendX":16,"legendY":6}}}}
],
"resolve": {"scale": {"shape":"independent","fill":"independent"}}
},
{
"width": 256, "height": 191,
"layer": [
{
"data": {"name": "EE"},
"transform": [{"fold": ["Conventional","With Kc","Simplified"], "as": ["s","v"]},{"filter":"isValid(datum.v)"}],
"encoding": {
"x": {"field":"I","type":"quantitative","scale":{"domain":[2,6],"nice":false,"zero":false},"axis":{"title":"I (A)","values":[2,3,4,5,6],"labelExpr":"datum.value % 2 === 0 ? datum.label : ''","tickSize":{"condition":{"test":"datum.value % 2 === 0","value":5},"value":3}}},
"y": {"field":"v","type":"quantitative","scale":{"domain":[0,6],"nice":false},"axis":{"title":["Absolute error","with vendor data (K)"],"titleFontSize":16,"values":[0,1,2,3,4,5,6],"labelExpr":"datum.value % 2 === 0 ? datum.label : ''","tickSize":{"condition":{"test":"datum.value % 2 === 0","value":5},"value":3}}}
},
"layer": [
{"mark":{"type":"line","strokeWidth":1.3},"encoding":{"color":{"field":"s","type":"nominal","scale":{"domain":["Conventional","With Kc","Simplified"],"range":["#000000","#ee1111","#1a1aee"]},"legend":null}}},
{"mark":{"type":"point","filled":true,"size":20,"opacity":1},"encoding":{"color":{"field":"s","type":"nominal","scale":{"domain":["Conventional","With Kc","Simplified"],"range":["#000000","#ee1111","#1a1aee"]},"legend":null},"shape":{"field":"s","type":"nominal","scale":{"domain":["Conventional","With Kc","Simplified"],"range":["square","circle","triangle-up"]},"legend":null}}},
{"mark":{"type":"point","filled":true,"opacity":0},"encoding":{
"fill":{"field":"s","type":"nominal","scale":{"domain":["Conventional","With Kc","Simplified"],"range":["#000000","#ee1111","#1a1aee"]},"legend":{"title":null,"orient":"none","legendX":18,"legendY":8.5}},
"shape":{"field":"s","type":"nominal","scale":{"domain":["Conventional","With Kc","Simplified"],"range":["M-2.9,-0.16H2.9V0.16H-2.9ZM-0.65,-0.65H0.65V0.65H-0.65Z","M-2.9,-0.16H2.9V0.16H-2.9ZM-0.7,0A0.7,0.7,0,1,1,0.7,0A0.7,0.7,0,1,1,-0.7,0Z","M-2.9,-0.16H2.9V0.16H-2.9ZM0,-0.8L0.75,0.55L-0.75,0.55Z"]},"legend":{"title":null,"orient":"none","legendX":18,"legendY":8.5}}}}
],
"resolve": {"scale": {"shape":"independent","fill":"independent"}}
},
{
"data": {"name": "EE"},
"transform": [{"filter": "datum.I >= 4.39 && datum.I <= 5.41"}],
"encoding": {
"x": {"field":"I","type":"quantitative","scale":{"domain":[4.15,7.518],"nice":false,"zero":false},"axis":{"orient":"bottom","offset":-21,"domain":false,"title":null,"values":[4.4,4.6,4.8,5.0,5.2,5.4],"format":".1f","labelFontSize":8,"tickSize":2,"labelPadding":0,"tickWidth":0.8}},
"y": {"field":"Simplified","type":"quantitative","scale":{"domain":[-0.08,0.6145],"nice":false,"zero":false},"axis":{"orient":"left","offset":-19,"domain":false,"title":null,"values":[0,0.1,0.2],"format":".1f","labelFontSize":8,"tickSize":2,"labelPadding":1,"tickWidth":0.8}}
},
"layer": [
{"mark":{"type":"line","color":"#1a1aee","strokeWidth":1}},
{"mark":{"type":"rule","color":"#222","strokeWidth":1},"encoding":{"x":{"datum":4.4,"type":"quantitative"},"x2":{"datum":5.4},"y":{"datum":0.2,"type":"quantitative"}}},
{"mark":{"type":"rule","color":"#222","strokeWidth":1},"encoding":{"x":{"datum":4.4,"type":"quantitative"},"x2":{"datum":5.4},"y":{"datum":0,"type":"quantitative"}}},
{"mark":{"type":"rule","color":"#222","strokeWidth":1},"encoding":{"x":{"datum":4.4,"type":"quantitative"},"y":{"datum":0,"type":"quantitative"},"y2":{"datum":0.2}}},
{"mark":{"type":"rule","color":"#222","strokeWidth":1},"encoding":{"x":{"datum":5.4,"type":"quantitative"},"y":{"datum":0,"type":"quantitative"},"y2":{"datum":0.2}}}
]
}
],
"resolve": {"scale": {"x":"independent","y":"independent"}, "axis": {"x":"independent","y":"independent"}}
}
],
"config": {
"font": "Liberation Serif",
"view": {"stroke": "#222", "strokeWidth": 1.5},
"axis": {"labelFont":"Liberation Serif","labelFontWeight":"bold","labelFontSize":12,"labelColor":"#111","titleFont":"Liberation Serif","titleFontWeight":"bold","titleColor":"#111","grid":false,"domainColor":"#222","domainWidth":1.5,"tickColor":"#222","tickWidth":1.2,"labelFlush":false,"labelOverlap":false},
"axisX": {"titleFontSize":16,"labelPadding":1,"titlePadding":0},
"axisY": {"titleFontSize":18,"labelPadding":2,"titlePadding":1},
"legend": {"labelFont":"Liberation Serif","labelFontWeight":"bold","labelFontSize":10.5,"labelColor":"#111","symbolSize":64,"symbolStrokeWidth":0,"symbolOpacity":1,"symbolFillColor":"#000000","labelOffset":4,"rowPadding":2,"padding":0,"symbolOffset":0}
}
}
